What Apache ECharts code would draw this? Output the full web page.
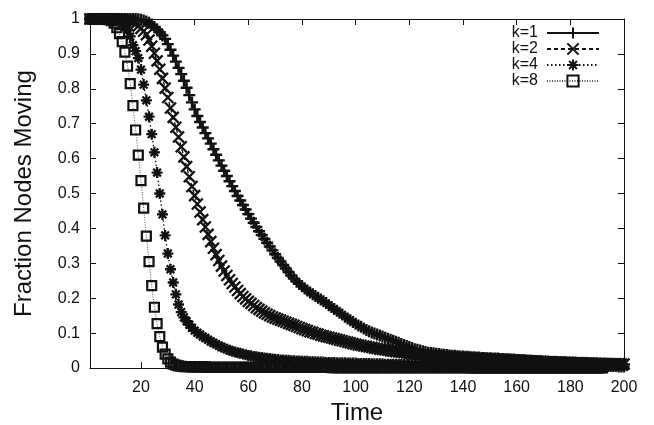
<!DOCTYPE html>
<html>
<head>
<meta charset="utf-8">
<script src="https://cdn.jsdelivr.net/npm/echarts@6/dist/echarts.min.js"></script>
<style>
  html, body { margin: 0; padding: 0; background: #fff; }
  #chart { width: 654px; height: 425px; }
</style>
</head>
<body>
<div id="chart"></div>
<script>
// Time steps 1..200
const time = [];
for (let t = 1; t <= 200; t++) time.push(t);

// Fraction of nodes still moving, one value per time step
const k1 = [
  1,1,1,1,1,1,1,1,1,1,1,1,1,1,1,1,1,1,
  0.999,0.998,0.996,0.993,0.989,0.984,0.977,0.970,0.962,0.953,0.943,0.928,
  0.912,0.895,0.878,0.860,0.842,0.823,0.803,0.782,0.761,0.741,
  0.722,0.705,0.689,0.673,0.658,0.643,0.627,0.611,0.595,0.580,
  0.565,0.550,0.535,0.521,0.507,0.493,0.480,0.467,0.454,0.441,
  0.428,0.416,0.404,0.392,0.381,0.370,0.359,0.348,0.337,0.326,
  0.315,0.305,0.295,0.285,0.275,0.265,0.256,0.248,0.241,0.234,
  0.228,0.222,0.216,0.211,0.206,0.201,0.196,0.191,0.186,0.180,
  0.175,0.169,0.164,0.158,0.153,0.147,0.142,0.137,0.132,0.127,
  0.122,0.118,0.113,0.109,0.105,0.102,0.099,0.096,0.093,0.090,
  0.087,0.084,0.081,0.078,0.075,0.072,0.069,0.066,0.063,0.060,
  0.057,0.054,0.052,0.050,0.048,0.046,0.044,0.043,0.042,0.041,
  0.040,0.039,0.038,0.037,0.036,0.035,0.035,0.034,0.033,0.033,
  0.032,0.032,0.031,0.031,0.030,0.030,0.029,0.029,0.028,0.028,
  0.027,0.027,0.027,0.026,0.026,0.025,0.025,0.024,0.024,0.023,
  0.023,0.022,0.022,0.021,0.021,0.020,0.020,0.019,0.019,0.018,
  0.018,0.017,0.017,0.017,0.016,0.016,0.016,0.015,0.015,0.015,
  0.014,0.014,0.014,0.014,0.013,0.013,0.013,0.013,0.012,0.012,
  0.012,0.012,0.012,0.011,0.011,0.011,0.011,0.011,0.010,0.010
];
const k2 = [
  1,1,1,1,1,1,1,1,1,1,1,1,
  0.999,0.998,0.997,0.995,0.991,0.986,0.980,0.973,
  0.965,0.955,0.940,0.922,0.902,0.880,0.856,0.830,0.802,0.775,
  0.745,0.718,0.690,0.662,0.634,0.605,0.577,0.548,0.520,0.494,
  0.470,0.447,0.425,0.404,0.383,0.362,0.343,0.325,0.308,0.292,
  0.278,0.265,0.253,0.242,0.232,0.222,0.213,0.205,0.198,0.191,
  0.185,0.179,0.173,0.168,0.163,0.158,0.154,0.150,0.146,0.143,
  0.140,0.137,0.134,0.131,0.128,0.125,0.122,0.119,0.116,0.113,
  0.110,0.107,0.104,0.102,0.099,0.097,0.094,0.092,0.090,0.088,
  0.086,0.084,0.082,0.080,0.078,0.076,0.074,0.072,0.070,0.068,
  0.066,0.065,0.063,0.062,0.060,0.059,0.057,0.056,0.054,0.053,
  0.052,0.051,0.049,0.048,0.047,0.046,0.045,0.044,0.043,0.042,
  0.041,0.040,0.039,0.038,0.038,0.037,0.036,0.035,0.035,0.034,
  0.034,0.033,0.033,0.032,0.032,0.031,0.031,0.030,0.030,0.029,
  0.029,0.029,0.028,0.028,0.027,0.027,0.027,0.026,0.026,0.025,
  0.025,0.025,0.024,0.024,0.024,0.023,0.023,0.023,0.022,0.022,
  0.022,0.021,0.021,0.021,0.020,0.020,0.020,0.019,0.019,0.019,
  0.018,0.018,0.018,0.017,0.017,0.017,0.016,0.016,0.016,0.016,
  0.015,0.015,0.015,0.015,0.014,0.014,0.014,0.014,0.013,0.013,
  0.013,0.013,0.013,0.012,0.012,0.012,0.012,0.012,0.011,0.011
];
const k4 = [
  1,1,1,1,1,1,1,1,1,
  0.999,0.997,0.993,0.987,0.979,0.968,0.950,
  0.925,0.908,0.888,0.855,0.812,0.767,0.720,0.670,0.618,0.560,
  0.500,0.440,0.380,0.328,0.283,0.245,0.211,0.182,0.160,0.145,
  0.134,0.124,0.115,0.107,0.101,0.096,0.090,0.086,0.081,0.076,
  0.072,0.068,0.064,0.060,0.057,0.054,0.051,0.048,0.046,0.044,
  0.042,0.040,0.038,0.036,0.035,0.033,0.032,0.031,0.030,0.029,
  0.028,0.027,0.026,0.025,0.024,0.023,0.023,0.022,0.022,0.021,
  0.021,0.020,0.020,0.019,0.019,0.019,0.018,0.018,0.018,0.017,
  0.017,0.017,0.016,0.016,0.016,0.016,0.015,0.015,0.015,0.015,
  0.014,0.014,0.014,0.014,0.013,0.013,0.013,0.013,0.013,0.012,
  0.012,0.012,0.012,0.012,0.011,0.011,0.011,0.011,0.011,0.010,
  0.010,0.010,0.010,0.010,0.010,0.009,0.009,0.009,0.009,0.009,
  0.009,0.009,0.008,0.008,0.008,0.008,0.008,0.008,0.008,0.007,
  0.007,0.007,0.007,0.007,0.007,0.007,0.007,0.007,0.007,0.007,
  0.007,0.007,0.006,0.006,0.006,0.006,0.006,0.006,0.006,0.006,
  0.006,0.006,0.006,0.006,0.006,0.006,0.005,0.005,0.005,0.005,
  0.005,0.005,0.005,0.005,0.005,0.005,0.005,0.005,0.005,0.005,
  0.005,0.005,0.005,0.005,0.004,0.004,0.004,0.004,0.004,0.004,
  0.004,0.004,0.004,0.004,0.004,0.004,0.004,0.004,0.004,0.004,
  0.004,0.003,0.003,0.003
];
const k8 = [
  1,1,1,1,1,1,1,
  0.998,0.995,0.988,0.975,0.958,
  0.935,0.905,0.865,0.815,0.752,0.682,0.610,0.537,0.458,0.378,
  0.305,0.236,0.174,0.127,0.090,0.060,0.040,0.026,0.017,0.011,
  0.008,0.006,0.005,0.004,0.004,0.004,0.003,0.003,0.003,0.003,
  0.003,0.003,0.002,0.002,0.002,0.002,0.002,0.002,0.002,0.002,
  0.002,0.002,0.002,0.002,0.002,0.002,0.002,0.002,0.002,0.002,
  0.002,0.002,0.002,0.002,0.002,0.002,0.002,0.002,0.002,0.002,
  0.002,0.002,0.002,0.002,0.002,0.002,0.002,0.002,0.002,0.002,
  0.002,0.002,0.002,0.002,0.002,0.002,0.002,0.002,0.001,0.001,
  0.001,0.001,0.001,0.001,0.001,0.001,0.001,0.001,0.001,0.001,
  0.001,0.001,0.001,0.001,0.001,0.001,0.001,0.001,0.001,0.001,
  0.001,0.001,0.001,0.001,0.001,0.001,0.001,0.001,0.001,0.001,
  0.001,0.001,0.001,0.001,0.001,0.001,0.001,0.001,0.001,0.001,
  0.001,0.001,0.001,0.001,0.001,0.001,0.001,0.001,0.001,0.001,
  0,0,0,0,0,0,0,0,0,0,
  0,0,0,0,0,0,0,0,0,0,
  0,0,0,0,0,0,0,0,0,0,
  0,0,0,0,0,0,0,0,0,0,
  0,0,0,0,0,0,0,0,0,0
];

const seriesNames = ['k=1', 'k=2', 'k=4', 'k=8'];
const xTicks = [20, 40, 60, 80, 100, 120, 140, 160, 180, 200];

const FONT = 'Liberation Sans, Arial, Helvetica, sans-serif';
const INK = '#111';

// Point glyphs: plus, cross, asterisk, open square
const PLUS  = 'path://M0,5L10,5M5,0L5,10';
const CROSS = 'path://M0,0L10,10M0,10L10,0';
const STAR  = 'path://M0,5L10,5M5,0L5,10M1.5,1.5L8.5,8.5M1.5,8.5L8.5,1.5';
const BOX   = 'path://M0,0L10,0L10,10L0,10Z';

function pairs(values) {
  return values.map((v, i) => [time[i], v]);
}

const styles = [
  { data: k1, symbol: PLUS,  size: 12, stroke: 2.4, line: { type: 'solid', width: 1.4, color: INK } },
  { data: k2, symbol: CROSS, size: 11, stroke: 2.3, line: { type: [4, 3], width: 1.3, color: INK } },
  { data: k4, symbol: STAR,  size: 11, stroke: 2.3, line: { type: [1.5, 2.5], width: 1.3, color: INK } },
  { data: k8, symbol: BOX,   size: 9,  stroke: 2.2, line: { type: [1, 1.5], width: 1, color: '#555' } }
];

const chart = echarts.init(document.getElementById('chart'), null, { renderer: 'canvas' });

const frameAxis = {
  axisLine: { show: true, onZero: false, lineStyle: { color: INK, width: 1 } },
  splitLine: { show: false }
};

chart.setOption({
  animation: false,
  backgroundColor: '#fff',
  textStyle: { fontFamily: FONT },
  grid: { left: 90, right: 30, top: 19, bottom: 57, containLabel: false, outerBoundsMode: 'none' },
  legend: {
    data: seriesNames,
    orient: 'vertical',
    right: 49,
    top: 20,
    align: 'right',
    itemWidth: 52,
    itemHeight: 14,
    itemGap: 0,
    textStyle: { fontFamily: FONT, fontSize: 16, color: INK, padding: [0, 4, 0, 0] }
  },
  xAxis: [
    Object.assign({}, frameAxis, {
      type: 'value', position: 'bottom', min: 1, max: 200,
      name: 'Time', nameLocation: 'middle', nameGap: 21,
      nameTextStyle: { fontFamily: FONT, fontSize: 24, color: INK },
      axisTick: { show: true, inside: true, length: 6, customValues: xTicks, lineStyle: { color: INK } },
      axisLabel: { show: true, customValues: xTicks, fontFamily: FONT, fontSize: 16, color: INK, margin: 12 }
    }),
    Object.assign({}, frameAxis, {
      type: 'value', position: 'top', min: 1, max: 200,
      axisTick: { show: true, inside: true, length: 6, customValues: xTicks, lineStyle: { color: INK } },
      axisLabel: { show: false }
    })
  ],
  yAxis: [
    Object.assign({}, frameAxis, {
      type: 'value', position: 'left', min: 0, max: 1, interval: 0.1,
      name: 'Fraction Nodes Moving', nameLocation: 'middle', nameGap: 54,
      nameTextStyle: { fontFamily: FONT, fontSize: 24, color: INK },
      axisTick: { show: true, inside: true, length: 6, lineStyle: { color: INK } },
      axisLabel: { fontFamily: FONT, fontSize: 16, color: INK, margin: 10 }
    }),
    Object.assign({}, frameAxis, {
      type: 'value', position: 'right', min: 0, max: 1, interval: 0.1,
      axisTick: { show: true, inside: true, length: 6, lineStyle: { color: INK } },
      axisLabel: { show: false }
    })
  ],
  series: styles.map((s, i) => ({
    name: seriesNames[i],
    type: 'line',
    xAxisIndex: 0,
    yAxisIndex: 0,
    data: pairs(s.data),
    symbol: s.symbol,
    symbolSize: s.size,
    showSymbol: true,
    clip: false,
    lineStyle: s.line,
    itemStyle: { color: 'rgba(0,0,0,0)', borderColor: INK, borderWidth: s.stroke },
    emphasis: { disabled: true },
    z: 2 + i
  }))
});
</script>
</body>
</html>
